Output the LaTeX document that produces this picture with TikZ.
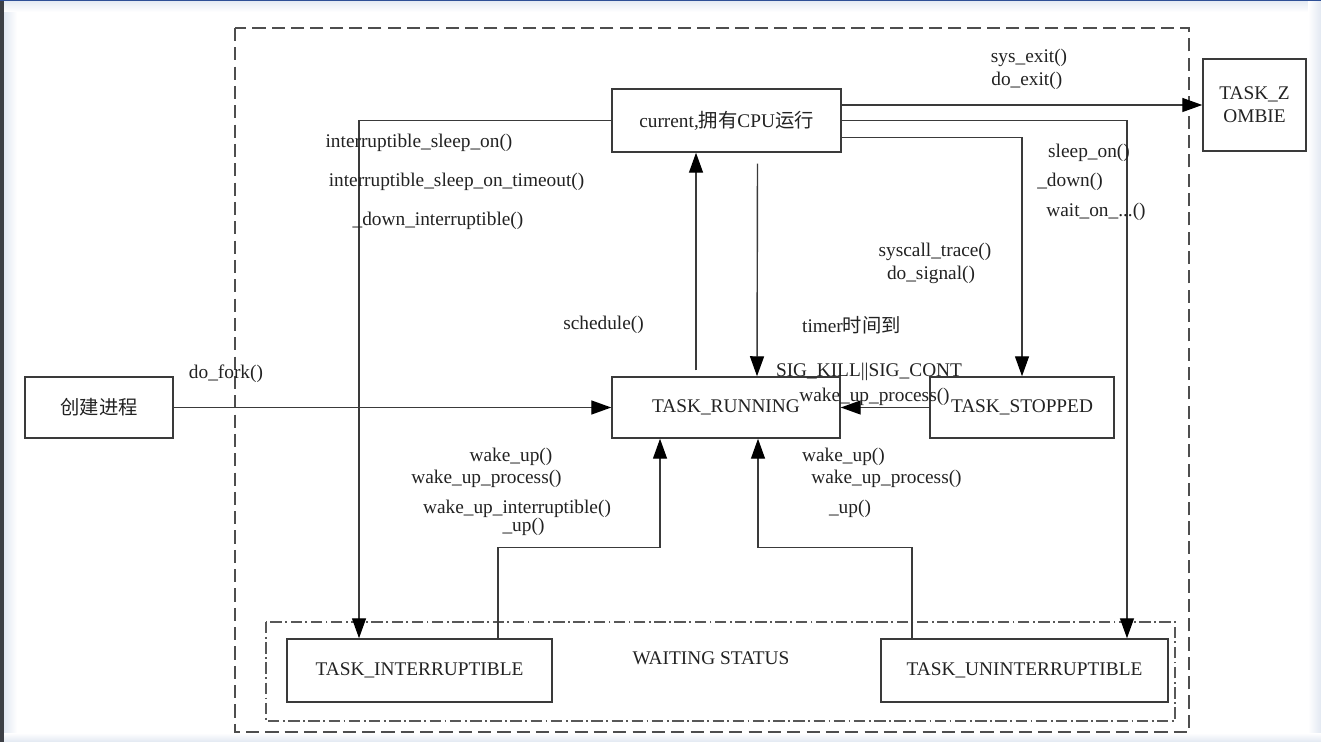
\documentclass[tikz,border=0pt]{standalone}
\usepackage{fontspec}
\setmainfont{Liberation Serif}
\newfontfamily\cjk{Noto Sans CJK SC}
\usetikzlibrary{arrows.meta}
\definecolor{ln}{HTML}{3A3A3A}
\definecolor{txt}{HTML}{222222}
\definecolor{frameL}{HTML}{3C3F45}
\definecolor{frameB}{HTML}{E2E8F2}
\definecolor{topblue}{HTML}{2E4F96}
\begin{document}
\begin{tikzpicture}[x=0.02cm,y=-0.02cm,
  box/.style={draw=ln, line width=0.85pt, inner sep=0pt, align=center, text=txt,
    font=\fontsize{11}{13}\selectfont, fill=white},
  lab/.style={inner sep=0pt, text=txt, font=\fontsize{11}{13}\selectfont},
  arr/.style={draw=ln, line width=0.8pt, -{Triangle[length=0.4cm,width=0.28cm,color=black,fill=black]}},
  outer/.style={draw=ln!90, line width=0.7pt, dash pattern=on 7.5pt off 3.5pt},
  waitbox/.style={draw=ln!85, line width=0.6pt, dash pattern=on 6.5pt off 2pt on 1pt off 2pt}]
\useasboundingbox (0,0) rectangle (1321,742);
% screenshot frame
\fill[white] (0,0) rectangle (1321,742);
\shade[left color=frameB, right color=white] (4,0) rectangle (17,742);
\fill[frameL] (0,0) rectangle (4,742);
\shade[top color=frameB, bottom color=white] (4,0) rectangle (1321,12);
\fill[topblue] (0,0) rectangle (1321,1.5);
\shade[left color=white, right color=frameB] (1308,2) rectangle (1321,742);
\shade[top color=white, bottom color=frameB] (4,733) rectangle (1321,742);

% containers
\draw[outer] (235,28) rectangle (1189,732);
\draw[waitbox] (266,622) rectangle (1175,721);
\node[lab] (wait) at (711,658) {WAITING STATUS};

% states
\node[box, minimum width=4.58cm, minimum height=1.26cm] (cur) at (726.5,120.5) {current,{\cjk 拥有}CPU{\cjk 运行}};
\node[box, minimum width=2.06cm, minimum height=1.84cm] (zom) at (1254.5,105) {TASK\_Z\\OMBIE};
\node[box, minimum width=2.96cm, minimum height=1.22cm] (cre) at (99,407.5) {\cjk 创建进程};
\node[box, minimum width=4.56cm, minimum height=1.22cm] (run) at (726,407.5) {TASK\_RUNNING};
\node[box, minimum width=3.68cm, minimum height=1.22cm] (stop) at (1022,407.5) {TASK\_STOPPED};
\node[box, minimum width=5.3cm, minimum height=1.26cm] (intr) at (419.5,670.5) {TASK\_INTERRUPTIBLE};
\node[box, minimum width=5.74cm, minimum height=1.26cm] (unint) at (1024.5,670.5) {TASK\_UNINTERRUPTIBLE};

% connectors
\draw[arr] (cur.east |- zom.west) -- (zom.west);
\draw[arr] (cur.east) -| ([xshift=2.05cm]unint.north);
\draw[arr] ([yshift=-0.34cm]cur.east) -| (stop.north);
\draw[arr] (cur.west) -| ([xshift=-1.21cm]intr.north);
\coordinate (s0) at ([xshift=-0.6cm,yshift=0.12cm]run.north);
\draw[arr] (s0) -- (s0 |- cur.south);
\draw[arr] ([xshift=0.62cm,yshift=-0.22cm]cur.south) -- ([xshift=0.62cm]run.north);
\draw[arr] (stop.west) -- (run.east);
\draw[arr] (cre.east) -- (run.west);
\draw[arr] ([xshift=1.57cm]intr.north) -- ++(0,-91) -| ([xshift=-1.32cm]run.south);
\draw[arr] ([xshift=-2.25cm]unint.north) -- ++(0,-91) -| ([xshift=0.64cm]run.south);

% labels
\node[lab] (l1) at (1029,58) {sys\_exit()};
\node[lab, anchor=west] (l2) at (991,81) {do\_exit()};
\node[lab] (l3) at (419,143) {interruptible\_sleep\_on()};
\node[lab] (l4) at (456.5,182) {interruptible\_sleep\_on\_timeout()};
\node[lab] (l5) at (438,221) {\_down\_interruptible()};
\node[lab] (l6) at (1089,153) {sleep\_on()};
\node[lab] (l7) at (1070,182) {\_down()};
\node[lab] (l8) at (1096,212) {wait\_on\_...()};
\node[lab] (l9) at (935,252) {syscall\_trace()};
\node[lab] (l10) at (931,275) {do\_signal()};
\node[lab] (l11) at (603.5,325) {schedule()};
\node[lab] (l12) at (851.5,325) {timer{\cjk 时间到}};
\node[lab] (l13) at (869,372) {SIG\_KILL||SIG\_CONT};
\node[lab] (l14) at (874.5,397) {wake\_up\_process()};
\node[lab] (l15) at (226,374) {do\_fork()};
\node[lab] (l16) at (511,457) {wake\_up()};
\node[lab] (l17) at (486.5,479) {wake\_up\_process()};
\node[lab] (l18) at (517,509) {wake\_up\_interruptible()};
\node[lab] (l19) at (523.5,527) {\_up()};
\node[lab] (l20) at (843.5,457) {wake\_up()};
\node[lab] (l21) at (886.5,479) {wake\_up\_process()};
\node[lab] (l22) at (850,509) {\_up()};
\end{tikzpicture}
\end{document}
